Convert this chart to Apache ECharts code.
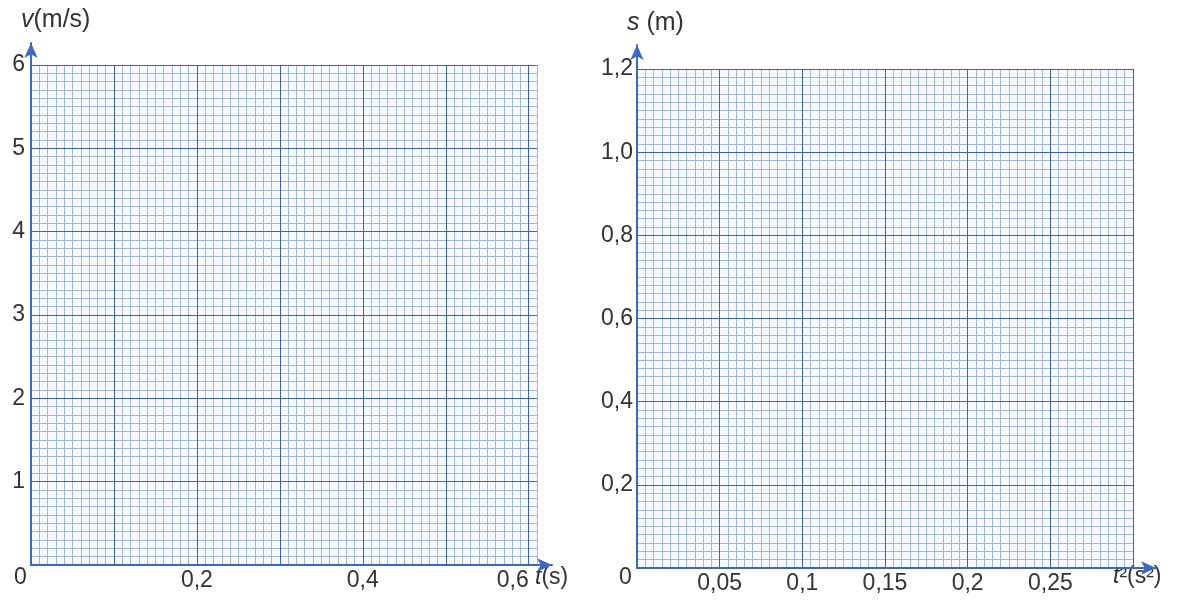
<!DOCTYPE html>
<html>
<head>
<meta charset="utf-8">
<script src="https://cdn.jsdelivr.net/npm/echarts@6/dist/echarts.min.js"></script>
<style>
    html, body { margin: 0; background: #fff; }
    #chart { width: 1187px; height: 603px; }
</style>
</head>
<body>
<div id="chart"></div>
<script>
'use strict';

// left sheet: v (m/s) against t (s)
const vtRangeX = [0, 0.61];
const vtRangeY = [0, 6];
const vtMajorX = 0.1;
const vtMajorY = 1;
const vtLabelsX = [0.2, 0.4, 0.6];
const vtLabelsY = [1, 2, 3, 4, 5, 6];

// right sheet: s (m) against t^2 (s^2)
const stRangeX = [0, 0.3];
const stRangeY = [0, 1.2];
const stMajorX = 0.05;
const stMajorY = 0.2;
const stLabelsX = [0.05, 0.1, 0.15, 0.2, 0.25];
const stLabelsY = [0.2, 0.4, 0.6, 0.8, 1.0, 1.2];

// ten small squares in every big one
const minorPerMajor = 10;

const font = 'Liberation Sans, Arial, sans-serif';
const textColor = '#333';
const majorColor = '#3f62b8';
const minorColor = '#a3b5e5';
const axisColor = '#3c68c4';
const tickFont = 23;
const titleFont = 25;

const comma = (v, digits) => {
    const s = digits === undefined ? String(parseFloat(v.toFixed(3))) : v.toFixed(digits);
    return s.replace('.', ',');
};

// fine lines of the paper, no labels
const minorAxis = (gridIndex, range, major) => ({
    type: 'value',
    gridIndex: gridIndex,
    min: range[0],
    max: range[1],
    interval: major / minorPerMajor,
    axisLine: { show: false },
    axisTick: { show: false },
    axisLabel: { show: false },
    splitLine: { show: true, lineStyle: { color: minorColor, width: 1 } }
});

// bold lines of the paper, with the numbers
const majorAxis = (gridIndex, range, major, labels, opts) => ({
    type: 'value',
    gridIndex: gridIndex,
    min: range[0],
    max: range[1],
    interval: major,
    z: 2,
    axisLine: { show: false },
    axisTick: { show: false },
    splitLine: {
        show: true,
        showMaxLine: opts.maxLine !== false,
        lineStyle: { color: majorColor, width: 1 }
    },
    axisLabel: {
        show: true,
        margin: opts.margin,
        color: textColor,
        fontSize: tickFont,
        fontFamily: font,
        showMinLabel: true,
        showMaxLabel: true,
        formatter: (v) => {
            const hit = labels.find((l) => Math.abs(l - v) < major / 1000);
            if (hit === undefined) {
                return '';
            }
            const txt = comma(hit, opts.digits);
            // last label of the left sheet sits left of its line, to leave room for t(s)
            if (opts.shiftLast && hit === labels[labels.length - 1]) {
                return txt + '\u00a0'.repeat(5);
            }
            return txt;
        }
    }
});

// a bare axis line ending in an arrow, a bit longer than the paper
const arrowAxis = (gridIndex) => ({
    type: 'value',
    gridIndex: gridIndex,
    min: 0,
    max: 1,
    z: 3,
    axisLine: {
        show: true,
        symbol: ['none', 'arrow'],
        symbolSize: [10, 15],
        lineStyle: { color: axisColor, width: 2 }
    },
    axisTick: { show: false },
    axisLabel: { show: false },
    splitLine: { show: false }
});

const box = (rect, filled) => ({
    left: rect[0], top: rect[1], width: rect[2], height: rect[3],
    show: filled,
    backgroundColor: '#f6f9fe',
    borderWidth: 0,
    outerBoundsMode: 'none'
});

const label = (text, left, top, size) => ({
    type: 'text',
    left: left,
    top: top,
    style: {
        text: text,
        fill: textColor,
        fontSize: size,
        fontFamily: font,
        rich: {
            i: { fontStyle: 'italic', fontSize: size, fontFamily: font, fill: textColor },
            n: { fontSize: size, fontFamily: font, fill: textColor }
        }
    }
});

const vtRect = [31, 65, 506, 500];
const stRect = [637, 69, 496, 499];

const options = {
    animation: false,
    backgroundColor: '#ffffff',
    grid: [
        box(vtRect, true),
        box(vtRect, false),
        box(stRect, true),
        box(stRect, false),
        box([31, 43, 521, 522], false),
        box([637, 45, 519, 523], false)
    ],
    xAxis: [
        minorAxis(0, vtRangeX, vtMajorX),
        majorAxis(1, vtRangeX, vtMajorX, vtLabelsX, { margin: 4, shiftLast: true, maxLine: false }),
        minorAxis(2, stRangeX, stMajorX),
        majorAxis(3, stRangeX, stMajorX, stLabelsX, { margin: 4 }),
        arrowAxis(4),
        arrowAxis(5)
    ],
    yAxis: [
        minorAxis(0, vtRangeY, vtMajorY),
        majorAxis(1, vtRangeY, vtMajorY, vtLabelsY, { margin: 6, digits: 0 }),
        minorAxis(2, stRangeY, stMajorY),
        majorAxis(3, stRangeY, stMajorY, stLabelsY, { margin: 4, digits: 1 }),
        arrowAxis(4),
        arrowAxis(5)
    ],
    graphic: [
        label('{i|v}{n|(m/s)}', 21, 8, titleFont),
        label('{i|s} {n|(m)}', 627, 11, titleFont),
        label('{i|t}{n|(s)}', 535, 566, tickFont),
        label('{i|t}{n|²(s²)}', 1113, 565, tickFont),
        label('0', 14, 566, tickFont),
        label('0', 619, 566, tickFont)
    ],
    series: []
};

const chart = echarts.init(document.getElementById('chart'));
chart.setOption(options);
</script>
</body>
</html>
